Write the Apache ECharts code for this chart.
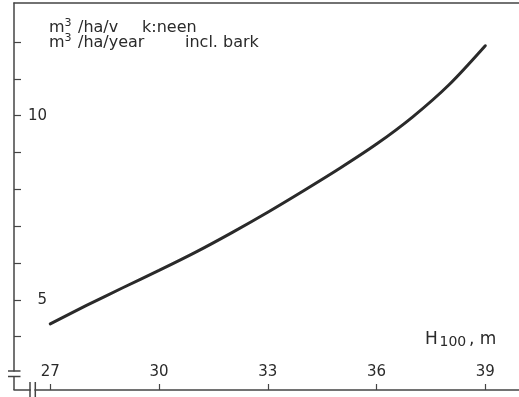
<!DOCTYPE html>
<html>
<head>
<meta charset="utf-8">
<style>
  html, body { margin: 0; padding: 0; background: #fff; }
  #chart { width: 519px; height: 397px; }
</style>
<script src="https://cdn.jsdelivr.net/npm/echarts@6/dist/echarts.min.js"></script>
</head>
<body>
<div id="chart"></div>
<script>
// Dominant height H100 (m) and current annual increment (m3/ha/year incl. bark)
const heights = [27, 28, 29, 30, 31, 32, 33, 34, 35, 36, 37, 38, 39];
const increment = [4.35, 4.85, 5.33, 5.80, 6.29, 6.82, 7.38, 7.97, 8.58, 9.23, 9.97, 10.84, 11.90];

const xTickValues = [27, 30, 33, 36, 39];
const yTickValues = [4, 5, 6, 7, 8, 9, 10, 11, 12];
const yLabelValues = [5, 10];

const INK = '#2a2a2a';
const AXIS = '#444444';
const FONT = 'DejaVu Sans';

const chart = echarts.init(document.getElementById('chart'), null, { renderer: 'canvas' });

// small helper for caption fragments
function caption(text, left, top, size) {
  return {
    type: 'text', left: left, top: top,
    style: { text: text, fill: INK, font: size + 'px "DejaVu Sans"', lineHeight: size }
  };
}

const option = {
  animation: false,
  backgroundColor: '#fff',
  grid: { left: 14, right: 0, top: 3, bottom: 26, containLabel: false },
  xAxis: [
    {
      type: 'value',
      min: 26,
      max: 39.93,
      offset: 19,
      axisLine: { show: true, lineStyle: { color: AXIS, width: 1.5 } },
      axisTick: { show: true, inside: true, length: 6, customValues: xTickValues, lineStyle: { color: AXIS, width: 1.2 } },
      axisLabel: { show: true, inside: true, margin: 10, customValues: xTickValues, color: INK, fontFamily: FONT, fontSize: 15 },
      splitLine: { show: false }
    },
    {
      type: 'value',
      position: 'top',
      min: 26,
      max: 39.93,
      axisLine: { show: true, lineStyle: { color: AXIS, width: 1.5 } },
      axisTick: { show: false },
      axisLabel: { show: false },
      splitLine: { show: false }
    }
  ],
  yAxis: {
    type: 'value',
    min: 3.07,
    max: 13.06,
    axisLine: { show: true, lineStyle: { color: AXIS, width: 1.5 } },
    axisTick: { show: true, inside: true, length: 7, customValues: yTickValues, lineStyle: { color: AXIS, width: 1.2 } },
    axisLabel: { show: true, inside: true, align: 'right', margin: 33, customValues: yLabelValues, color: INK, fontFamily: FONT, fontSize: 15 },
    splitLine: { show: false }
  },
  series: [
    {
      type: 'line',
      xAxisIndex: 0,
      data: heights.map((h, i) => [h, increment[i]]),
      smooth: 0.3,
      showSymbol: false,
      symbol: 'none',
      lineStyle: { color: INK, width: 3, cap: 'round' }
    }
  ],
  graphic: [
    // axis break on the vertical axis
    { type: 'line', shape: { x1: 8, y1: 371, x2: 20.5, y2: 371 }, style: { stroke: AXIS, lineWidth: 1.5 } },
    { type: 'line', shape: { x1: 8, y1: 376.5, x2: 20.5, y2: 376.5 }, style: { stroke: AXIS, lineWidth: 1.5 } },
    { type: 'line', shape: { x1: 14, y1: 376.5, x2: 14, y2: 390 }, style: { stroke: AXIS, lineWidth: 1.5 } },
    // axis break on the horizontal axis
    { type: 'rect', shape: { x: 30.8, y: 387, width: 3.6, height: 6 }, style: { fill: '#fff' }, z: 100 },
    { type: 'line', shape: { x1: 30, y1: 382, x2: 30, y2: 397 }, style: { stroke: AXIS, lineWidth: 1.5 }, z: 101 },
    { type: 'line', shape: { x1: 35.3, y1: 382, x2: 35.3, y2: 397 }, style: { stroke: AXIS, lineWidth: 1.5 }, z: 101 },
    // unit captions, Finnish then English
    caption('m', 49, 20, 16),
    caption('3', 64.5, 17.5, 11),
    caption('/ha/v', 78, 20, 16),
    caption('k:neen', 142, 20, 16),
    caption('m', 49, 35, 16),
    caption('3', 64.5, 32.5, 11),
    caption('/ha/year', 78, 35, 16),
    caption('incl. bark', 185, 35, 16),
    // horizontal axis name
    caption('H', 425, 331.5, 17),
    caption('100', 439.5, 335.8, 14),
    caption(', m', 469, 331.5, 17)
  ]
};

chart.setOption(option);
</script>
</body>
</html>
